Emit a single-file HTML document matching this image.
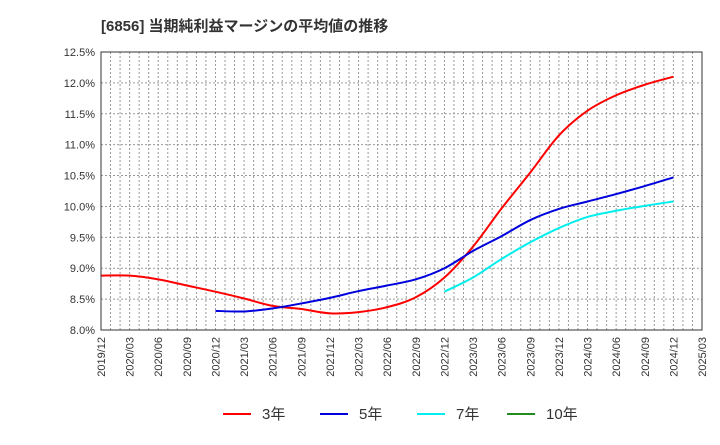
<!DOCTYPE html>
<html><head><meta charset="utf-8"><style>
body{margin:0;background:#fff;font-family:"Liberation Sans","Noto Sans CJK JP",sans-serif}
</style></head><body>
<svg width="720" height="440" xmlns="http://www.w3.org/2000/svg" font-family="Liberation Sans, Noto Sans CJK JP, sans-serif">
<text x="101" y="31" font-size="15" font-weight="bold" fill="#333">[6856]  当期純利益マージンの平均値の推移</text>
<g id="grid"></g><g id="axes"></g><g id="series"></g>
<rect x="101" y="52" width="601" height="278" fill="none" stroke="#333" stroke-width="1"/>
<g id="legend" font-size="15" fill="#333"></g>
</svg>
<script>
const xLabels=["2019/12","2020/03","2020/06","2020/09","2020/12","2021/03","2021/06","2021/09","2021/12","2022/03","2022/06","2022/09","2022/12","2023/03","2023/06","2023/09","2023/12","2024/03","2024/06","2024/09","2024/12","2025/03"];
const yTicks=[8.0,8.5,9.0,9.5,10.0,10.5,11.0,11.5,12.0,12.5];
const s3=[8.88,8.88,8.82,8.72,8.62,8.51,8.39,8.34,8.27,8.29,8.37,8.53,8.85,9.35,9.97,10.55,11.15,11.55,11.8,11.97,12.1];
const s5=[null,null,null,null,8.31,8.30,8.35,8.43,8.52,8.63,8.72,8.82,9.0,9.28,9.52,9.78,9.96,10.08,10.2,10.33,10.47];
const s7=[null,null,null,null,null,null,null,null,null,null,null,null,8.62,8.85,9.15,9.42,9.65,9.83,9.93,10.01,10.08];
const s10=[];
const NS="http://www.w3.org/2000/svg";
const L=101,R=702,T=52,B=330,ymin=8,ymax=12.5;
const xq=i=>L+i*(R-L)/(xLabels.length-1);
const yv=v=>B-(v-ymin)/(ymax-ymin)*(B-T);
function mk(tag,attrs,parent){const e=document.createElementNS(NS,tag);for(const k in attrs)e.setAttribute(k,attrs[k]);parent.appendChild(e);return e;}
const grid=document.getElementById('grid'),axes=document.getElementById('axes'),ser=document.getElementById('series'),leg=document.getElementById('legend');
for(let m=1;m<63;m++){const x=L+m*(R-L)/63;const l=mk('line',{x1:x,x2:x,y1:T,y2:B,stroke:'#999','stroke-dasharray':'2,2','stroke-width':1},grid);

}
yTicks.forEach(v=>{const y=yv(v);const l=mk('line',{x1:L,x2:R,y1:y,y2:y,stroke:'#999','stroke-dasharray':'2,2','stroke-width':1},grid);


const t=mk('text',{x:L-6,y:y+4,'text-anchor':'end','font-size':11,fill:'#333'},axes);t.textContent=v.toFixed(1)+'%';

});
xLabels.forEach((lb,i)=>{const x=xq(i);const t=mk('text',{x:0,y:0,transform:`translate(${x+4},337) rotate(-90)`,'text-anchor':'end','font-size':11,fill:'#333'},axes);t.textContent=lb;

});
function path(arr){const pts=[];arr.forEach((v,i)=>{if(v!=null)pts.push([xq(i),yv(v)]);});if(pts.length<2)return '';
let d=`M${pts[0][0]},${pts[0][1]}`;for(let i=0;i<pts.length-1;i++){const p0=pts[i-1]||pts[i],p1=pts[i],p2=pts[i+1],p3=pts[i+2]||p2;
d+=` C${p1[0]+(p2[0]-p0[0])/6},${p1[1]+(p2[1]-p0[1])/6} ${p2[0]-(p3[0]-p1[0])/6},${p2[1]-(p3[1]-p1[1])/6} ${p2[0]},${p2[1]}`;}return d;}
[[s3,'#ff0000','series-3yr'],[s5,'#0000dd','series-5yr'],[s7,'#00eeee','series-7yr'],[s10,'#228b22','series-10yr']].forEach(([a,c,n])=>{const d=path(a);if(!d)return;const p=mk('path',{d,fill:'none',stroke:c,'stroke-width':2},ser);

});
[['3年','#ff0000',223],['5年','#0000dd',320],['7年','#00eeee',417],['10年','#228b22',507]].forEach(([lb,c,x])=>{const g=mk('g',{},leg);


mk('line',{x1:x,x2:x+28,y1:414,y2:414,stroke:c,'stroke-width':2},g);const t=mk('text',{x:x+39,y:419},g);t.textContent=lb;});
</script>
</body></html>
